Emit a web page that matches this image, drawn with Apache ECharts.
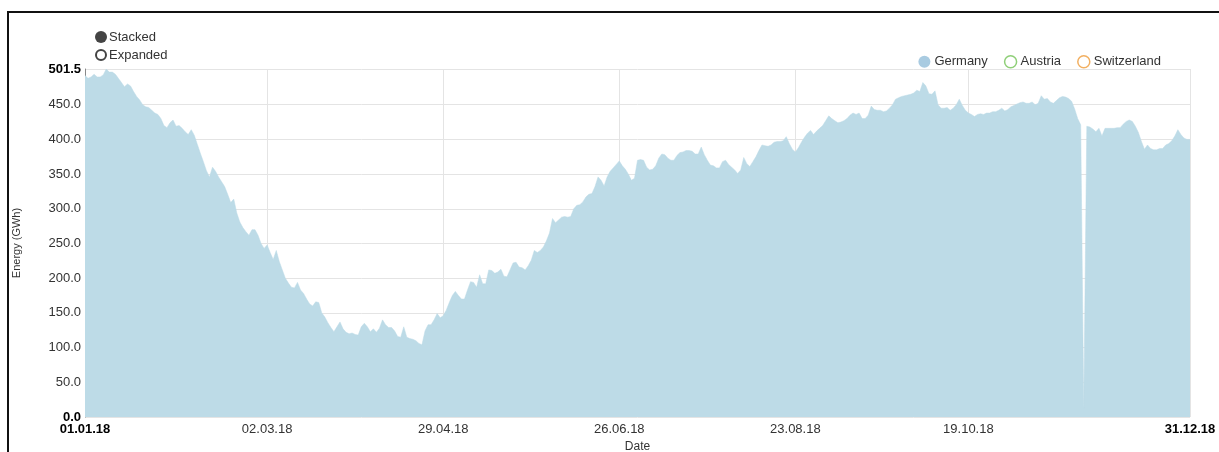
<!DOCTYPE html>
<html>
<head>
<meta charset="utf-8">
<script src="https://cdn.jsdelivr.net/npm/echarts@6/dist/echarts.min.js"></script>
<style>
  html, body { margin: 0; padding: 0; background: #fff; }
  #frame { position: absolute; left: 7px; top: 11px; width: 1230px; height: 460px;
           border-left: 2px solid #111; border-top: 2px solid #111; box-sizing: border-box; }
  #chart { position: absolute; left: 0; top: 0; width: 1219px; height: 452px; }
</style>
</head>
<body>
<div id="frame"></div>
<div id="chart"></div>
<script>
// Daily energy values (GWh) for 2018, one per day from 01.01.18 to 31.12.18
const germany = [
  492, 488, 490, 494, 490, 490, 493, 501.5, 497, 497,
  494, 488, 482, 476, 480, 477, 469, 462, 457, 450,
  447, 446, 442, 438, 436, 430, 420, 417, 424, 428,
  419, 420, 416, 411, 407, 414, 406, 393, 380, 368,
  355, 346, 360, 354, 346, 339, 332, 321, 309, 314,
  294, 281, 273, 267, 262, 270, 270, 262, 250, 243,
  248, 237, 227, 240, 224, 212, 200, 193, 187, 186,
  194, 183, 178, 170, 163, 160, 166, 165, 150, 144,
  136, 129, 123, 130, 137, 127, 122, 120, 121, 119,
  118, 130, 135, 130, 123, 127, 122, 128, 140, 133,
  129, 129, 124, 116, 115, 130, 115, 113, 112, 110,
  106, 104, 124, 133, 133, 140, 149, 143, 146, 154,
  165, 175, 181, 175, 170, 170, 183, 195, 194, 187,
  205, 192, 192, 212, 211, 207, 209, 213, 203, 202,
  212, 222, 223, 216, 215, 212, 218, 226, 240, 237,
  240, 245, 254, 265, 286, 280, 284, 288, 289, 288,
  289, 300, 305, 306, 310, 317, 321, 322, 332, 346,
  341, 333, 346, 354, 359, 364, 369, 362, 357, 350,
  341, 344, 370, 371, 370, 360, 356, 357, 362, 373,
  379, 378, 373, 370, 370, 377, 381, 382, 384, 384,
  383, 379, 379, 389, 378, 370, 363, 362, 359, 359,
  368, 370, 364, 360, 356, 351, 356, 374, 365, 361,
  368, 375, 384, 392, 391, 390, 392, 396, 397, 397,
  398, 404, 394, 386, 382, 388, 396, 403, 409, 413,
  407, 412, 416, 420, 427, 434, 430, 427, 424, 425,
  427, 430, 435, 438, 436, 438, 430, 430, 435, 448,
  443, 442, 442, 440, 441, 445, 450, 458, 460, 462,
  463, 464, 465, 467, 471, 469, 482, 477, 466, 465,
  470, 450, 445, 445, 446, 442, 445, 450, 458, 449,
  442, 438, 436, 433, 436, 437, 436, 438, 438, 440,
  440, 442, 445, 441, 443, 447, 449, 451, 453, 454,
  452, 452, 454, 450, 452, 463, 458, 459, 454, 452,
  456, 460, 462, 461, 459, 455, 444, 430, 421, 12,
  419, 418, 415, 411, 416, 405, 416, 416, 416, 416,
  417, 417, 422, 426, 428, 426, 419, 410, 397, 386,
  392, 387, 385, 385, 387, 387, 392, 394, 398, 405,
  414, 407, 402, 400, 400
];
const austria = [];
const switzerland = [];

// Labelled dates on the time axis and value-axis ticks
const dateTicks = ['01.01.18', '02.03.18', '29.04.18', '26.06.18', '23.08.18', '19.10.18', '31.12.18'];
const energyTicks = [0, 50, 100, 150, 200, 250, 300, 350, 400, 450, 501.5];

// One category per day of 2018, formatted dd.mm.yy
const pad = n => String(n).padStart(2, '0');
const dates = [];
for (let i = 0; i < germany.length; i++) {
  const d = new Date(Date.UTC(2018, 0, 1 + i));
  dates.push(pad(d.getUTCDate()) + '.' + pad(d.getUTCMonth() + 1) + '.' + String(d.getUTCFullYear()).slice(2));
}
const tickSet = new Set(dateTicks);
const edgeDates = new Set([dateTicks[0], dateTicks[dateTicks.length - 1]]);
const edgeValues = new Set([energyTicks[0], energyTicks[energyTicks.length - 1]]);

const FONT = '"Liberation Sans", Arial, sans-serif';
const chart = echarts.init(document.getElementById('chart'), null, { renderer: 'canvas' });

chart.setOption({
  animation: false,
  textStyle: { fontFamily: FONT },
  grid: { left: 85, right: 29, top: 69, bottom: 35, containLabel: false, outerBoundsMode: 'none' },
  legend: {
    right: 53, top: 50,
    itemWidth: 12, itemHeight: 12, itemGap: 16,
    icon: 'circle',
    textStyle: { fontFamily: FONT, fontSize: 13, color: '#333', padding: [0, 0, 0, -1] },
    selectedMode: false,
    data: [
      { name: 'Germany', itemStyle: { color: '#a9cbe1', borderWidth: 0 } },
      { name: 'Austria', itemStyle: { color: '#ffffff', borderColor: '#8fcf78', borderWidth: 1.5 } },
      { name: 'Switzerland', itemStyle: { color: '#ffffff', borderColor: '#f2b062', borderWidth: 1.5 } }
    ]
  },
  graphic: [
    { type: 'circle', shape: { cx: 101, cy: 37, r: 6 }, style: { fill: '#444' } },
    { type: 'text', x: 109, y: 37, style: { text: 'Stacked', fontFamily: FONT, fontSize: 13, fill: '#333', verticalAlign: 'middle' } },
    { type: 'circle', shape: { cx: 101, cy: 55, r: 5 }, style: { fill: '#fff', stroke: '#444', lineWidth: 2 } },
    { type: 'text', x: 109, y: 55, style: { text: 'Expanded', fontFamily: FONT, fontSize: 13, fill: '#333', verticalAlign: 'middle' } }
  ],
  xAxis: {
    type: 'category',
    data: dates,
    boundaryGap: false,
    name: 'Date',
    nameLocation: 'middle',
    nameGap: 22,
    nameTextStyle: { fontFamily: FONT, fontSize: 12, color: '#333', verticalAlign: 'top' },
    axisLine: { show: false },
    axisTick: { show: false },
    axisLabel: {
      interval: (i, v) => tickSet.has(v),
      margin: 6,
      fontSize: 13,
      color: '#333',
      formatter: v => edgeDates.has(v) ? '{b|' + v + '}' : v,
      rich: { b: { fontWeight: 'bold', fontSize: 13, color: '#000', fontFamily: FONT } }
    },
    splitLine: {
      show: true,
      interval: (i, v) => tickSet.has(v),
      lineStyle: { color: '#e4e4e4', width: 1 }
    }
  },
  yAxis: {
    type: 'value',
    min: 0,
    max: 501.5,
    name: 'Energy (GWh)',
    nameLocation: 'middle',
    nameGap: 63,
    nameRotate: 90,
    nameTextStyle: { fontFamily: FONT, fontSize: 11, color: '#333' },
    axisLine: { show: true, lineStyle: { color: '#888', width: 1 } },
    axisTick: { show: false, customValues: energyTicks },
    axisLabel: {
      customValues: energyTicks,
      margin: 4,
      fontSize: 13,
      color: '#333',
      showMinLabel: true,
      showMaxLabel: true,
      formatter: v => edgeValues.has(v) ? '{b|' + v.toFixed(1) + '}' : v.toFixed(1),
      rich: { b: { fontWeight: 'bold', fontSize: 13, color: '#000', fontFamily: FONT } }
    },
    splitLine: { show: true, lineStyle: { color: '#e4e4e4', width: 1 } }
  },
  series: [
    {
      name: 'Germany', type: 'line', data: germany,
      showSymbol: false, symbol: 'none',
      lineStyle: { width: 0.5, color: '#bddbe7' },
      itemStyle: { color: '#a9cbe1' },
      areaStyle: { color: '#bddbe7', opacity: 1 },
      z: 3
    },
    { name: 'Austria', type: 'line', data: austria, showSymbol: false, itemStyle: { color: '#8fcf78' } },
    { name: 'Switzerland', type: 'line', data: switzerland, showSymbol: false, itemStyle: { color: '#f2b062' } }
  ]
});
</script>
</body>
</html>
